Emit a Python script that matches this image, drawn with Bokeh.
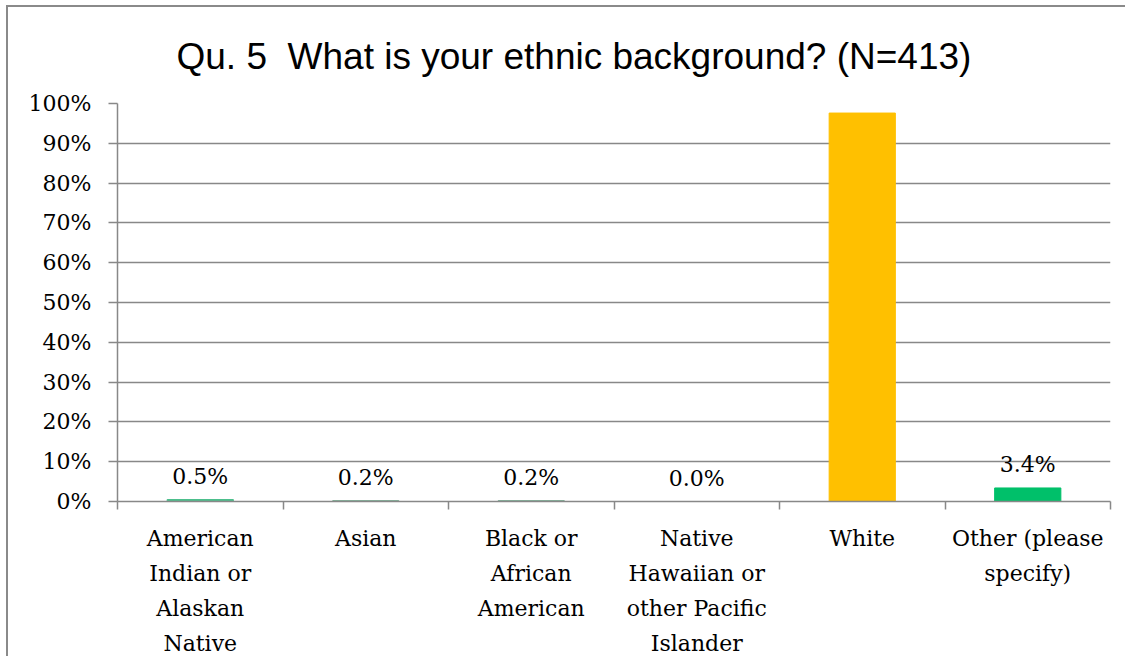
from bokeh.plotting import figure
from bokeh.models import ColumnDataSource, FixedTicker, PrintfTickFormatter, LabelSet, Range1d
from bokeh.core.properties import value
from bokeh.embed import file_html
from bokeh.resources import INLINE

title_text = "Qu. 5\u00a0 What is your ethnic background? (N=413)"
categories = [
    "American\nIndian or\nAlaskan\nNative",
    "Asian",
    "Black or\nAfrican\nAmerican",
    "Native\nHawaiian or\nother Pacific\nIslander",
    "White",
    "Other (please\nspecify)",
]
values = [0.5, 0.2, 0.2, 0.0, 97.6, 3.4]
bar_colors = ["#4CBF8C", "#6FA58A", "#6FA58A", "#6FA58A", "#FFC000", "#00C06A"]
y_ticks = [0, 10, 20, 30, 40, 50, 60, 70, 80, 90, 100]

n = len(categories)
centers = [i + 0.5 for i in range(n)]
src = ColumnDataSource(dict(
    x=centers,
    top=values,
    color=bar_colors,
    label=[f"{v:.1f}%" for v in values],
))

GRAY = "#888888"
SERIF = "DejaVu Serif"

p = figure(width=1119, height=651, output_backend="svg", toolbar_location=None,
           x_range=Range1d(0, n), y_range=Range1d(0, 100),
           min_border_left=109, min_border_right=17, min_border_top=95, min_border_bottom=155)
p.styles = {"margin-left": "6px", "margin-top": "5px",
            "border-left": "2px solid #8a8a8a", "border-top": "2px solid #8a8a8a",
            "border-right": "none", "border-bottom": "none"}

p.title.text = title_text
p.title.text_font = "Liberation Sans"
p.title.text_font_size = "37px"
p.title.text_font_style = "normal"
p.title.align = "left"
p.title.offset = 59
p.title.text_color = "black"
p.title.standoff = 53

p.vbar(x="x", top="top", width=0.4, color="color", source=src)

labels = LabelSet(x="x", y="top", text="label", source=src, text_align="center",
                  text_baseline="alphabetic", y_offset=16, text_font=value(SERIF),
                  text_font_size=value("22px"), text_color="black")
p.add_layout(labels)

p.outline_line_color = None
p.background_fill_color = "white"
p.border_fill_color = "white"

# grid
p.xgrid.grid_line_color = None
p.ygrid.ticker = FixedTicker(ticks=y_ticks)
p.ygrid.grid_line_color = GRAY
p.ygrid.grid_line_width = 1.5

# y axis
p.yaxis.ticker = FixedTicker(ticks=y_ticks)
p.yaxis.formatter = PrintfTickFormatter(format="%d%%")
p.yaxis.axis_line_color = GRAY
p.yaxis.axis_line_width = 1.5
p.yaxis.major_tick_line_color = GRAY
p.yaxis.major_tick_line_width = 1.5
p.yaxis.major_tick_in = 0
p.yaxis.major_tick_out = 9
p.yaxis.minor_tick_line_color = None
p.yaxis.major_label_text_font = SERIF
p.yaxis.major_label_text_font_size = "22px"
p.yaxis.major_label_text_color = "black"
p.yaxis.major_label_standoff = 17

# x axis
p.xaxis.ticker = FixedTicker(ticks=centers, minor_ticks=list(range(n + 1)))
p.xaxis.major_label_overrides = {c: lab for c, lab in zip(centers, categories)}
p.xaxis.axis_line_color = GRAY
p.xaxis.axis_line_width = 1.5
p.xaxis.major_tick_line_color = None
p.xaxis.minor_tick_line_color = GRAY
p.xaxis.minor_tick_line_width = 1.5
p.xaxis.minor_tick_in = 0
p.xaxis.minor_tick_out = 8
p.xaxis.major_label_text_font = SERIF
p.xaxis.major_label_text_font_size = "22px"
p.xaxis.major_label_text_color = "black"
p.xaxis.major_label_text_line_height = 1.4
p.xaxis.major_label_standoff = 16

open("out.html", "w").write(file_html(p, INLINE))
